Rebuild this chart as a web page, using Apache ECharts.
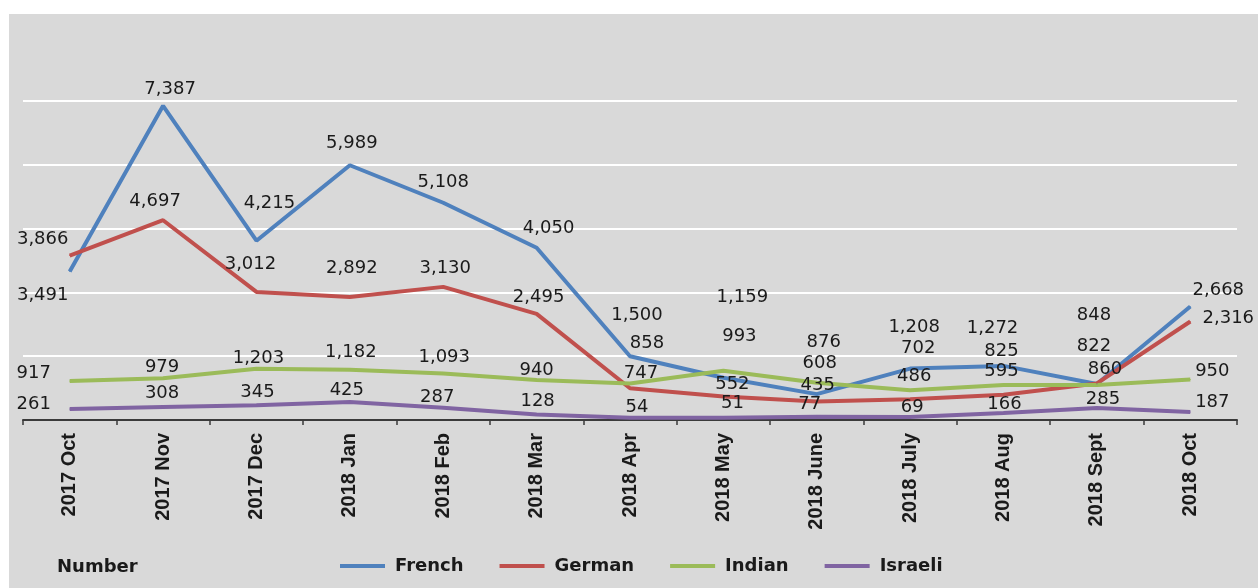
<!DOCTYPE html>
<html>
<head>
<meta charset="utf-8">
<script src="https://cdn.jsdelivr.net/npm/echarts@6/dist/echarts.min.js"></script>
<style>
  html, body { margin:0; padding:0; background:#ffffff; }
  #wrap { position:relative; width:1258px; height:588px; overflow:hidden; background:#ffffff; }
  #panel { position:absolute; left:9px; top:14px; right:0; bottom:0; background:#d9d9d9; }
  #chart { position:absolute; left:0; top:0; width:1258px; height:588px; }
</style>
</head>
<body>
<div id="wrap"><div id="panel"></div><div id="chart"></div></div>
<script>
// ---- Data ----
const categories = ['2017 Oct','2017 Nov','2017 Dec','2018 Jan','2018 Feb','2018 Mar','2018 Apr','2018 May','2018 June','2018 July','2018 Aug','2018 Sept','2018 Oct'];
const french  = [3491, 7387, 4215, 5989, 5108, 4050, 1500, 993, 608, 1208, 1272, 848, 2668];
const german  = [3866, 4697, 3012, 2892, 3130, 2495, 747, 552, 435, 486, 595, 860, 2316];
const indian  = [917, 979, 1203, 1182, 1093, 940, 858, 1159, 876, 702, 825, 822, 950];
const israeli = [261, 308, 345, 425, 287, 128, 54, 51, 77, 69, 166, 285, 187];
const seriesNames = ['French','German','Indian','Israeli'];

// ---- Label placement (layout only, offsets from each point in px) ----
const labelOffsets = {
  French:  [[-27,24],[7,-16],[13,-37],[2,-22],[0,-20],[12,-19],[7,-41],[16,-41],[3,-31],[4,-41],[-11,-38],[-3,-69],[28,-16]],
  German:  [[-27,-16],[-8,-19],[-6,-28],[2,-29],[2,-19],[2,-17],[11,-15],[9,-12],[1,-16],[4,-23],[-2,-23],[8,-14],[38,-3]],
  Indian:  [[-36,-8],[-1,-11],[2,-11],[1,-17],[1,-16],[0,-10],[17,-40],[19,-73],[7,-40],[8,-42],[-2,-34],[-3,-39],[22,-8]],
  Israeli: [[-36,-5],[-1,-14],[1,-13],[-3,-12],[-6,-10],[1,-13],[7,-10],[9,-15],[-7,-12],[2,-10],[1,-9],[6,-9],[22,-10]]
};
const colors = { French:'#4f81bd', German:'#c0504d', Indian:'#9bbb59', Israeli:'#8064a2' };
const values = { French:french, German:german, Indian:indian, Israeli:israeli };

const fmt = v => v.toLocaleString('en-US');

const series = seriesNames.map(name => ({
  name: name,
  type: 'line',
  symbol: 'circle',
  symbolSize: 1,
  showSymbol: true,
  z: 3,
  lineStyle: { color: colors[name], width: 4 },
  itemStyle: { color: colors[name] },
  emphasis: { disabled: true },
  label: {
    show: true,
    position: 'inside',
    fontFamily: 'DejaVu Sans',
    fontSize: 18,
    color: '#1a1a1a',
    formatter: p => fmt(p.value)
  },
  data: values[name].map((v, i) => ({
    value: v,
    label: { offset: labelOffsets[name][i] }
  }))
}));

const chart = echarts.init(document.getElementById('chart'), null, { renderer: 'canvas' });
chart.setOption({
  animation: false,
  backgroundColor: 'transparent',
  grid: { left: 23, right: 21, top: 101, bottom: 168, containLabel: false },
  xAxis: {
    type: 'category',
    data: categories,
    boundaryGap: true,
    axisLine: { show: true, lineStyle: { color: '#3a3a3a', width: 2 } },
    axisTick: { show: true, length: 5, lineStyle: { color: '#3a3a3a', width: 1.5 } },
    axisLabel: {
      interval: 0,
      rotate: 90,
      margin: 13,
      fontFamily: 'Liberation Sans',
      fontWeight: 'bold',
      fontSize: 20,
      color: '#1a1a1a'
    }
  },
  yAxis: {
    type: 'value',
    min: 0,
    max: 7500,
    interval: 1500,
    axisLine: { show: false },
    axisTick: { show: false },
    axisLabel: { show: false },
    splitLine: { show: true, lineStyle: { color: '#ffffff', width: 2 } }
  },
  legend: {
    data: seriesNames,
    left: 335,
    top: 552,
    icon: 'rect',
    itemWidth: 45,
    itemHeight: 4,
    itemGap: 36,
    selectedMode: false,
    textStyle: {
      fontFamily: 'DejaVu Sans',
      fontWeight: 'bold',
      fontSize: 18,
      color: '#1a1a1a',
      padding: [0, 0, 0, 5]
    }
  },
  graphic: [{
    type: 'text',
    left: 57,
    top: 558,
    style: {
      text: 'Number',
      font: 'bold 18px "DejaVu Sans"',
      fill: '#1a1a1a'
    }
  }],
  series: series
});
</script>
</body>
</html>
